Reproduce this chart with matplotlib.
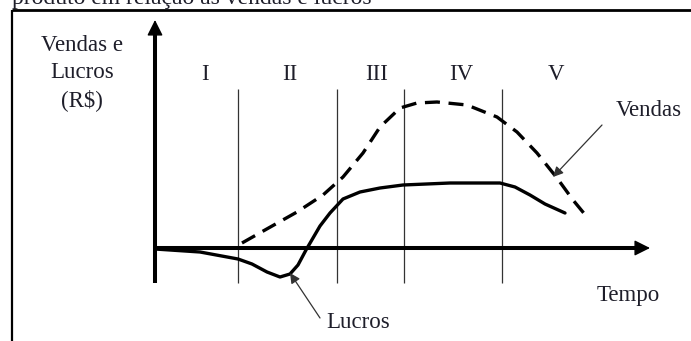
# import lib
import matplotlib.pyplot as plt

# data (time units ~ px from origin, value units ~ px above the time axis)
sales_t = [87, 110, 142, 168, 188, 208, 225, 245, 262, 282, 312, 342, 362, 382, 402, 418, 432]
sales_v = [5, 18, 36, 53, 71, 95, 121, 140, 145, 146, 143, 131, 116, 95, 70, 48, 31]

profit_t = [0, 45, 83, 97, 112, 125, 135, 143, 151, 158, 165, 175, 188, 205, 225, 248, 295, 345, 360, 375, 390, 410]
profit_v = [-1, -4, -11, -16, -24, -29, -26, -17, -2, 10, 22, 35, 49, 56, 60, 63, 65, 65, 61, 53, 44, 35]

stage_bounds = [83, 182, 249, 347]                 # lines between the stages
stage_labels = ['I', 'II', 'III', 'IV', 'V']
stage_label_t = [50, 135, 222, 306, 401]

title_text = 'produto em relação às vendas e lucros'
y_label = 'Vendas e\nLucros\n(R\\$)'
x_label = 'Tempo'
sales_label = 'Vendas'
profit_label = 'Lucros'

# style
font = 'Liberation Serif'
fs = 16.5
txt_col = '#1e1e2a'

fig = plt.figure(figsize=(6.91, 3.41), dpi=100)
ax = fig.add_axes([0, 0, 1, 1])
ax.set_xlim(-155, 536)
ax.set_ylim(-93, 248)
ax.axis('off')

# frame of the figure (top and left side)
ax.plot([-143, 536], [238, 238], color='black', lw=2.0, solid_capstyle='butt')
ax.plot([-143, -143], [238, -93], color='black', lw=1.6, solid_capstyle='butt')

# cut caption at the top
ax.text(-143, 244, title_text, fontfamily=font, fontsize=17, color=txt_col,
        ha='left', va='baseline')

# stage lines and labels
ax.vlines(stage_bounds, -35, 159, color='#333333', lw=0.9)
for lab, t in zip(stage_labels, stage_label_t):
    ax.text(t, 173, lab, fontfamily=font, fontsize=fs, color=txt_col, ha='center', va='center')

# axes with arrows
ax.plot([0, 0], [-35, 220], color='black', lw=2.9, solid_capstyle='butt')
ax.plot([0, 485], [0, 0], color='black', lw=2.9, solid_capstyle='butt')
head = dict(arrowstyle='-|>,head_length=0.8,head_width=0.4', color='black', lw=1,
            mutation_scale=12, shrinkA=0, shrinkB=0)
ax.annotate('', xy=(0, 228), xytext=(0, 210), arrowprops=head)
ax.annotate('', xy=(495, 0), xytext=(477, 0), arrowprops=head)

# curves
ax.plot(sales_t, sales_v, color='black', lw=2.4, linestyle=(0, (4.5, 2.6)))
ax.plot(profit_t, profit_v, color='black', lw=2.4, solid_capstyle='round', solid_joinstyle='round')

# labels
ax.text(-73, 175, y_label, fontfamily=font, fontsize=fs, color=txt_col,
        ha='center', va='center', linespacing=1.35, multialignment='center')
ax.text(473, -47, x_label, fontfamily=font, fontsize=fs, color=txt_col, ha='center', va='center')

thin = dict(arrowstyle='-|>,head_length=0.6,head_width=0.3', color='#333333', lw=0.9,
            mutation_scale=10, shrinkA=0, shrinkB=0)
ax.annotate('', xy=(398, 71), xytext=(447, 123), arrowprops=thin)
ax.text(494, 138, sales_label, fontfamily=font, fontsize=fs, color=txt_col, ha='center', va='center')
ax.annotate('', xy=(135, -25), xytext=(165, -70), arrowprops=thin)
ax.text(203, -74, profit_label, fontfamily=font, fontsize=fs, color=txt_col, ha='center', va='center')

fig.savefig('out.png', dpi=100, facecolor='white')
